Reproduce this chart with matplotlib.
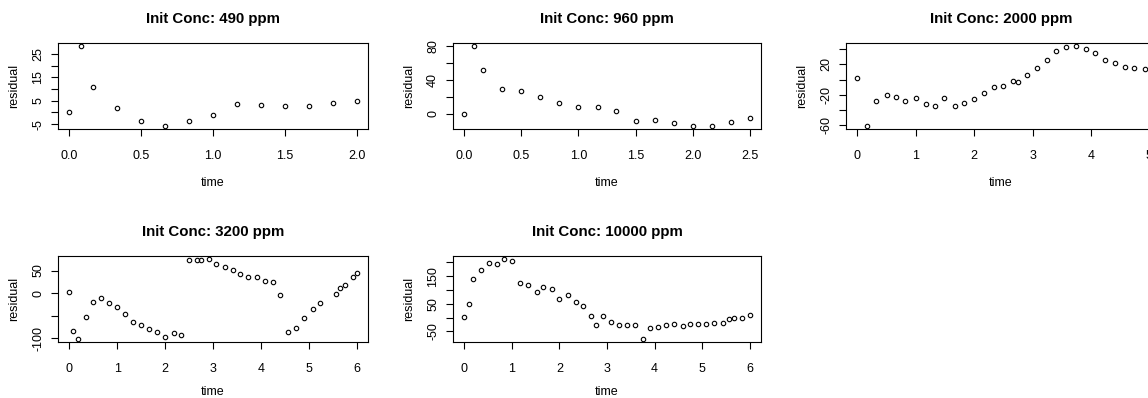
import numpy as np
import matplotlib
matplotlib.use("Agg")
import matplotlib.pyplot as plt

plt.rcParams['font.family'] = ['Liberation Sans', 'DejaVu Sans']

# residuals, one panel per initial concentration
t_490 = [0, 0.083, 0.167, 0.333, 0.5, 0.667, 0.833, 1.0, 1.167, 1.333, 1.5, 1.667, 1.833, 2.0]
r_490 = [0.2, 28.3, 11.0, 1.7, -3.7, -5.7, -3.7, -1.2, 3.6, 3.1, 2.6, 2.6, 4.2, 4.8]

t_960 = [0, 0.083, 0.167, 0.333, 0.5, 0.667, 0.833, 1.0, 1.167, 1.333, 1.5, 1.667,
         1.833, 2.0, 2.167, 2.333, 2.5]
r_960 = [0, 80, 51.2, 29.2, 26.8, 20.1, 13, 7.5, 7.5, 3.5, -9, -7.5, -11.8, -14.6,
         -14.6, -10.6, -5.9]

t_2000 = [0, 0.155, 0.317, 0.5, 0.66, 0.82, 1.0, 1.167, 1.333, 1.49, 1.667, 1.833, 2.0,
          2.167, 2.333, 2.49, 2.66, 2.745, 2.91, 3.07, 3.25, 3.41, 3.57, 3.75, 3.91,
          4.07, 4.25, 4.41, 4.58, 4.74, 4.92]
r_2000 = [1.5, -61.3, -28.8, -20, -23.1, -28.8, -24.4, -32.3, -35.4, -24.4, -35.4, -30.5,
          -26.2, -18.2, -9.5, -8.1, -1.5, -2.9, 5.9, 15.2, 26.2, 38, 42.9, 44.2, 41.1,
          34.9, 26.2, 21.3, 16.9, 15.2, 13.8]

t_3200 = [0, 0.07, 0.168, 0.337, 0.49, 0.653, 0.83, 1.0, 1.17, 1.32, 1.49, 1.66, 1.83,
          2.0, 2.175, 2.33, 2.49, 2.66, 2.74, 2.91, 3.07, 3.25, 3.42, 3.57, 3.73, 3.91,
          4.08, 4.25, 4.41, 4.57, 4.74, 4.91, 5.08, 5.235, 5.58, 5.65, 5.75, 5.92, 6.0]
r_3200 = [1.5, -83, -100.7, -52.2, -19.1, -11, -21.3, -29.4, -44.9, -62.5, -70.6, -80.1,
          -85.3, -96.3, -88.2, -91.2, 72.8, 72.8, 72.8, 75, 65.4, 57.4, 52.2, 42.6, 34.6,
          34.6, 26.5, 24.3, -4.4, -85.3, -77.9, -55.1, -34.6, -22.1, -1.5, 11, 19.1,
          34.6, 44.9]

t_10000 = [0, 0.098, 0.175, 0.343, 0.51, 0.68, 0.833, 1.0, 1.17, 1.337, 1.52, 1.66, 1.834,
           2.0, 2.18, 2.345, 2.5, 2.67, 2.76, 2.91, 3.08, 3.25, 3.42, 3.59, 3.76, 3.91,
           4.08, 4.25, 4.42, 4.59, 4.75, 4.915, 5.08, 5.25, 5.43, 5.57, 5.67, 5.83, 6.0]
r_10000 = [3, 48.8, 140.4, 170.5, 195.8, 192.2, 211.4, 204.2, 124.7, 116.3, 91, 111.4, 103,
           65.7, 82.5, 57.2, 40.4, 6.6, -27.1, 6.6, -13.9, -27.1, -27.1, -27.1, -76.5,
           -39.2, -35.5, -27.1, -22.3, -30.7, -22.3, -22.3, -22.3, -18.7, -18.7, -5.4,
           -1.8, -1.8, 11.4]

titles = ["Init Conc: 490 ppm", "Init Conc: 960 ppm", "Init Conc: 2000 ppm",
          "Init Conc: 3200 ppm", "Init Conc: 10000 ppm"]
times = [t_490, t_960, t_2000, t_3200, t_10000]
resids = [r_490, r_960, r_2000, r_3200, r_10000]

xticks = [[0, 0.5, 1.0, 1.5, 2.0], [0, 0.5, 1.0, 1.5, 2.0, 2.5], [0, 1, 2, 3, 4, 5],
          [0, 1, 2, 3, 4, 5, 6], [0, 1, 2, 3, 4, 5, 6]]
xlabels = [["0.0", "0.5", "1.0", "1.5", "2.0"], ["0.0", "0.5", "1.0", "1.5", "2.0", "2.5"],
           ["0", "1", "2", "3", "4", "5"], [str(i) for i in range(7)], [str(i) for i in range(7)]]
yticks = [[-5, 0, 5, 10, 15, 20, 25], [0, 20, 40, 60, 80], [-60, -40, -20, 0, 20, 40],
          [-100, -50, 0, 50], [-50, 0, 50, 100, 150, 200]]
ylabels = [["-5", "", "5", "", "15", "", "25"], ["0", "", "40", "", "80"],
           ["-60", "", "-20", "", "20", ""], ["-100", "", "0", "50"],
           ["-50", "", "50", "", "150", ""]]

W, H = 1148, 398
fig = plt.figure(figsize=(W / 100, H / 100), dpi=100)

# panel boxes in pixels: left, top, width, height
boxes = [(58, 43, 310, 86), (453, 43, 308, 86), (846, 43, 310, 86),
         (58, 256, 310, 86), (453, 256, 308, 86)]
xlab_off = [48, 48, 48, 44, 44]

for i in range(5):
    l, t, w, h = boxes[i]
    ax = fig.add_axes([l / W, 1 - (t + h) / H, w / W, h / H])
    ax.plot(times[i], resids[i], 'o', ms=3.2, mfc='none', mec='black', mew=0.8)
    ax.margins(0.04)
    ax.set_xticks(xticks[i])
    ax.set_xticklabels(xlabels[i])
    ax.set_yticks(yticks[i])
    ax.set_yticklabels(ylabels[i], rotation=90, va='center')
    ax.tick_params(axis='x', length=5, width=0.8, pad=10, labelsize=9)
    ax.tick_params(axis='y', length=5, width=0.8, pad=5, labelsize=9)
    for s in ax.spines.values():
        s.set_linewidth(0.8)
    ax.set_title(titles[i], fontsize=10.8, fontweight='bold', pad=14.5)
    ax.set_xlabel("time", fontsize=9)
    ax.set_ylabel("residual", fontsize=9)
    ax.xaxis.set_label_coords(0.5, -xlab_off[i] / h, transform=ax.transAxes)
    ax.yaxis.set_label_coords(-38 / w, 0.5, transform=ax.transAxes)

fig.savefig("out.png", dpi=100)
